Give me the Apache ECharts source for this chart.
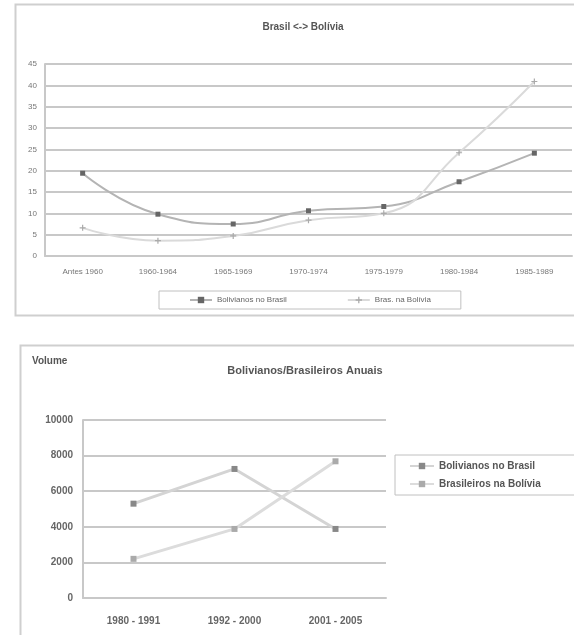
<!DOCTYPE html>
<html>
<head>
<meta charset="utf-8">
<script src="https://cdn.jsdelivr.net/npm/echarts@6/dist/echarts.min.js"></script>
<style>
  html, body { margin: 0; padding: 0; background: #fff; }
  #chart { width: 574px; height: 635px; }
</style>
</head>
<body>
<div id="chart"></div>
<script>
// dados do gráfico de cima (Brasil <-> Bolívia)
var periodos = ["Antes 1960", "1960-1964", "1965-1969", "1970-1974", "1975-1979", "1980-1984", "1985-1989"];
var bolNoBrasil = [19.4, 9.8, 7.5, 10.6, 11.6, 17.4, 24.1];
var brasNaBolivia = [6.6, 3.6, 4.7, 8.4, 10.0, 24.2, 40.9];

// dados do gráfico de baixo
var intervalos = ["1980 - 1991", "1992 - 2000", "2001 - 2005"];
var bolNoBrasil2 = [5300, 7250, 3880];
var brasNaBolivia2 = [2200, 3880, 7680];

var fonte = "Liberation Sans, Arial, sans-serif";
var cinzaGrade = "#c8c8c8";

var chart = echarts.init(document.getElementById("chart"));

var option = {
  animation: false,
  textStyle: { fontFamily: fonte },
  graphic: [
    { type: "rect", shape: { x: 15.5, y: 4.5, width: 600, height: 311 }, style: { fill: "none", stroke: "#cfcfcf", lineWidth: 2 } },
    { type: "rect", shape: { x: 20.5, y: 345.5, width: 600, height: 320 }, style: { fill: "none", stroke: "#cfcfcf", lineWidth: 2 } },
    { type: "text", left: 32, top: 356, style: { text: "Volume", font: "bold 10px " + fonte, fill: "#555" } }
  ],
  title: [
    { text: "Brasil <-> Bolívia", left: 298, top: 17, textAlign: "center",
      textStyle: { fontSize: 10, fontWeight: "bold", color: "#555", fontFamily: fonte } },
    { text: "Bolivianos/Brasileiros Anuais", left: 300, top: 360, textAlign: "center",
      textStyle: { fontSize: 11, fontWeight: "bold", color: "#555", fontFamily: fonte } }
  ],
  legend: [
    {
      data: ["Bolivianos no Brasil", "Bras. na Bolívia"],
      left: 159, top: 291, width: 298, height: 21,
      padding: [5, 30, 5, 30],
      itemGap: 60, itemWidth: 22, itemHeight: 8,
      borderColor: "#c0c0c0", borderWidth: 1,
      textStyle: { fontSize: 8, color: "#666", fontFamily: fonte }
    },
    {
      data: ["Bolivianos no Brasil 2", "Brasileiros na Bolívia 2"],
      orient: "vertical",
      left: 395, top: 455,
      padding: [6, 40, 6, 14],
      itemGap: 8, itemWidth: 24, itemHeight: 8,
      borderColor: "#c0c0c0", borderWidth: 1,
      formatter: function (n) { return n.replace(" 2", ""); },
      textStyle: { fontSize: 10, fontWeight: "bold", color: "#555", fontFamily: fonte }
    }
  ],
  grid: [
    { left: 45, right: 2, top: 64, bottom: 379 },
    { left: 83, right: 188, top: 420, bottom: 37 }
  ],
  xAxis: [
    {
      type: "category", gridIndex: 0, data: periodos, boundaryGap: true,
      axisLine: { lineStyle: { color: cinzaGrade, width: 2 } },
      axisTick: { show: false },
      axisLabel: { fontSize: 8, color: "#777", margin: 12 }
    },
    {
      type: "category", gridIndex: 1, data: intervalos, boundaryGap: true,
      axisLine: { lineStyle: { color: cinzaGrade, width: 2 } },
      axisTick: { show: false },
      axisLabel: { fontSize: 10, fontWeight: "bold", color: "#666", margin: 18 }
    }
  ],
  yAxis: [
    {
      type: "value", gridIndex: 0, min: 0, max: 45, interval: 5,
      axisLine: { show: true, lineStyle: { color: cinzaGrade, width: 2 } },
      axisTick: { show: false },
      splitLine: { lineStyle: { color: cinzaGrade, width: 2 } },
      axisLabel: { fontSize: 8, color: "#777", margin: 8 }
    },
    {
      type: "value", gridIndex: 1, min: 0, max: 10000, interval: 2000,
      axisLine: { show: true, lineStyle: { color: cinzaGrade, width: 2 } },
      axisTick: { show: false },
      splitLine: { lineStyle: { color: cinzaGrade, width: 2 } },
      axisLabel: { fontSize: 10, fontWeight: "bold", color: "#666", margin: 10,
        formatter: function (v) { return String(v); } }
    }
  ],
  series: [
    {
      name: "Bolivianos no Brasil", type: "line", xAxisIndex: 0, yAxisIndex: 0,
      data: bolNoBrasil, smooth: true,
      symbol: "rect", symbolSize: 5,
      itemStyle: { color: "#666" },
      lineStyle: { color: "#b4b4b4", width: 2 }
    },
    {
      name: "Bras. na Bolívia", type: "line", xAxisIndex: 0, yAxisIndex: 0,
      data: brasNaBolivia, smooth: true,
      symbol: "path://M0,2h5v1h-5z M2,0h1v5h-1z", symbolSize: 6,
      itemStyle: { color: "#aaa" },
      lineStyle: { color: "#dadada", width: 2 }
    },
    {
      name: "Bolivianos no Brasil 2", type: "line", xAxisIndex: 1, yAxisIndex: 1,
      data: bolNoBrasil2,
      symbol: "rect", symbolSize: 6,
      itemStyle: { color: "#888" },
      lineStyle: { color: "#d4d4d4", width: 3 }
    },
    {
      name: "Brasileiros na Bolívia 2", type: "line", xAxisIndex: 1, yAxisIndex: 1,
      data: brasNaBolivia2,
      symbol: "rect", symbolSize: 6,
      itemStyle: { color: "#aaa" },
      lineStyle: { color: "#dcdcdc", width: 3 }
    }
  ]
};

chart.setOption(option);
</script>
</body>
</html>
